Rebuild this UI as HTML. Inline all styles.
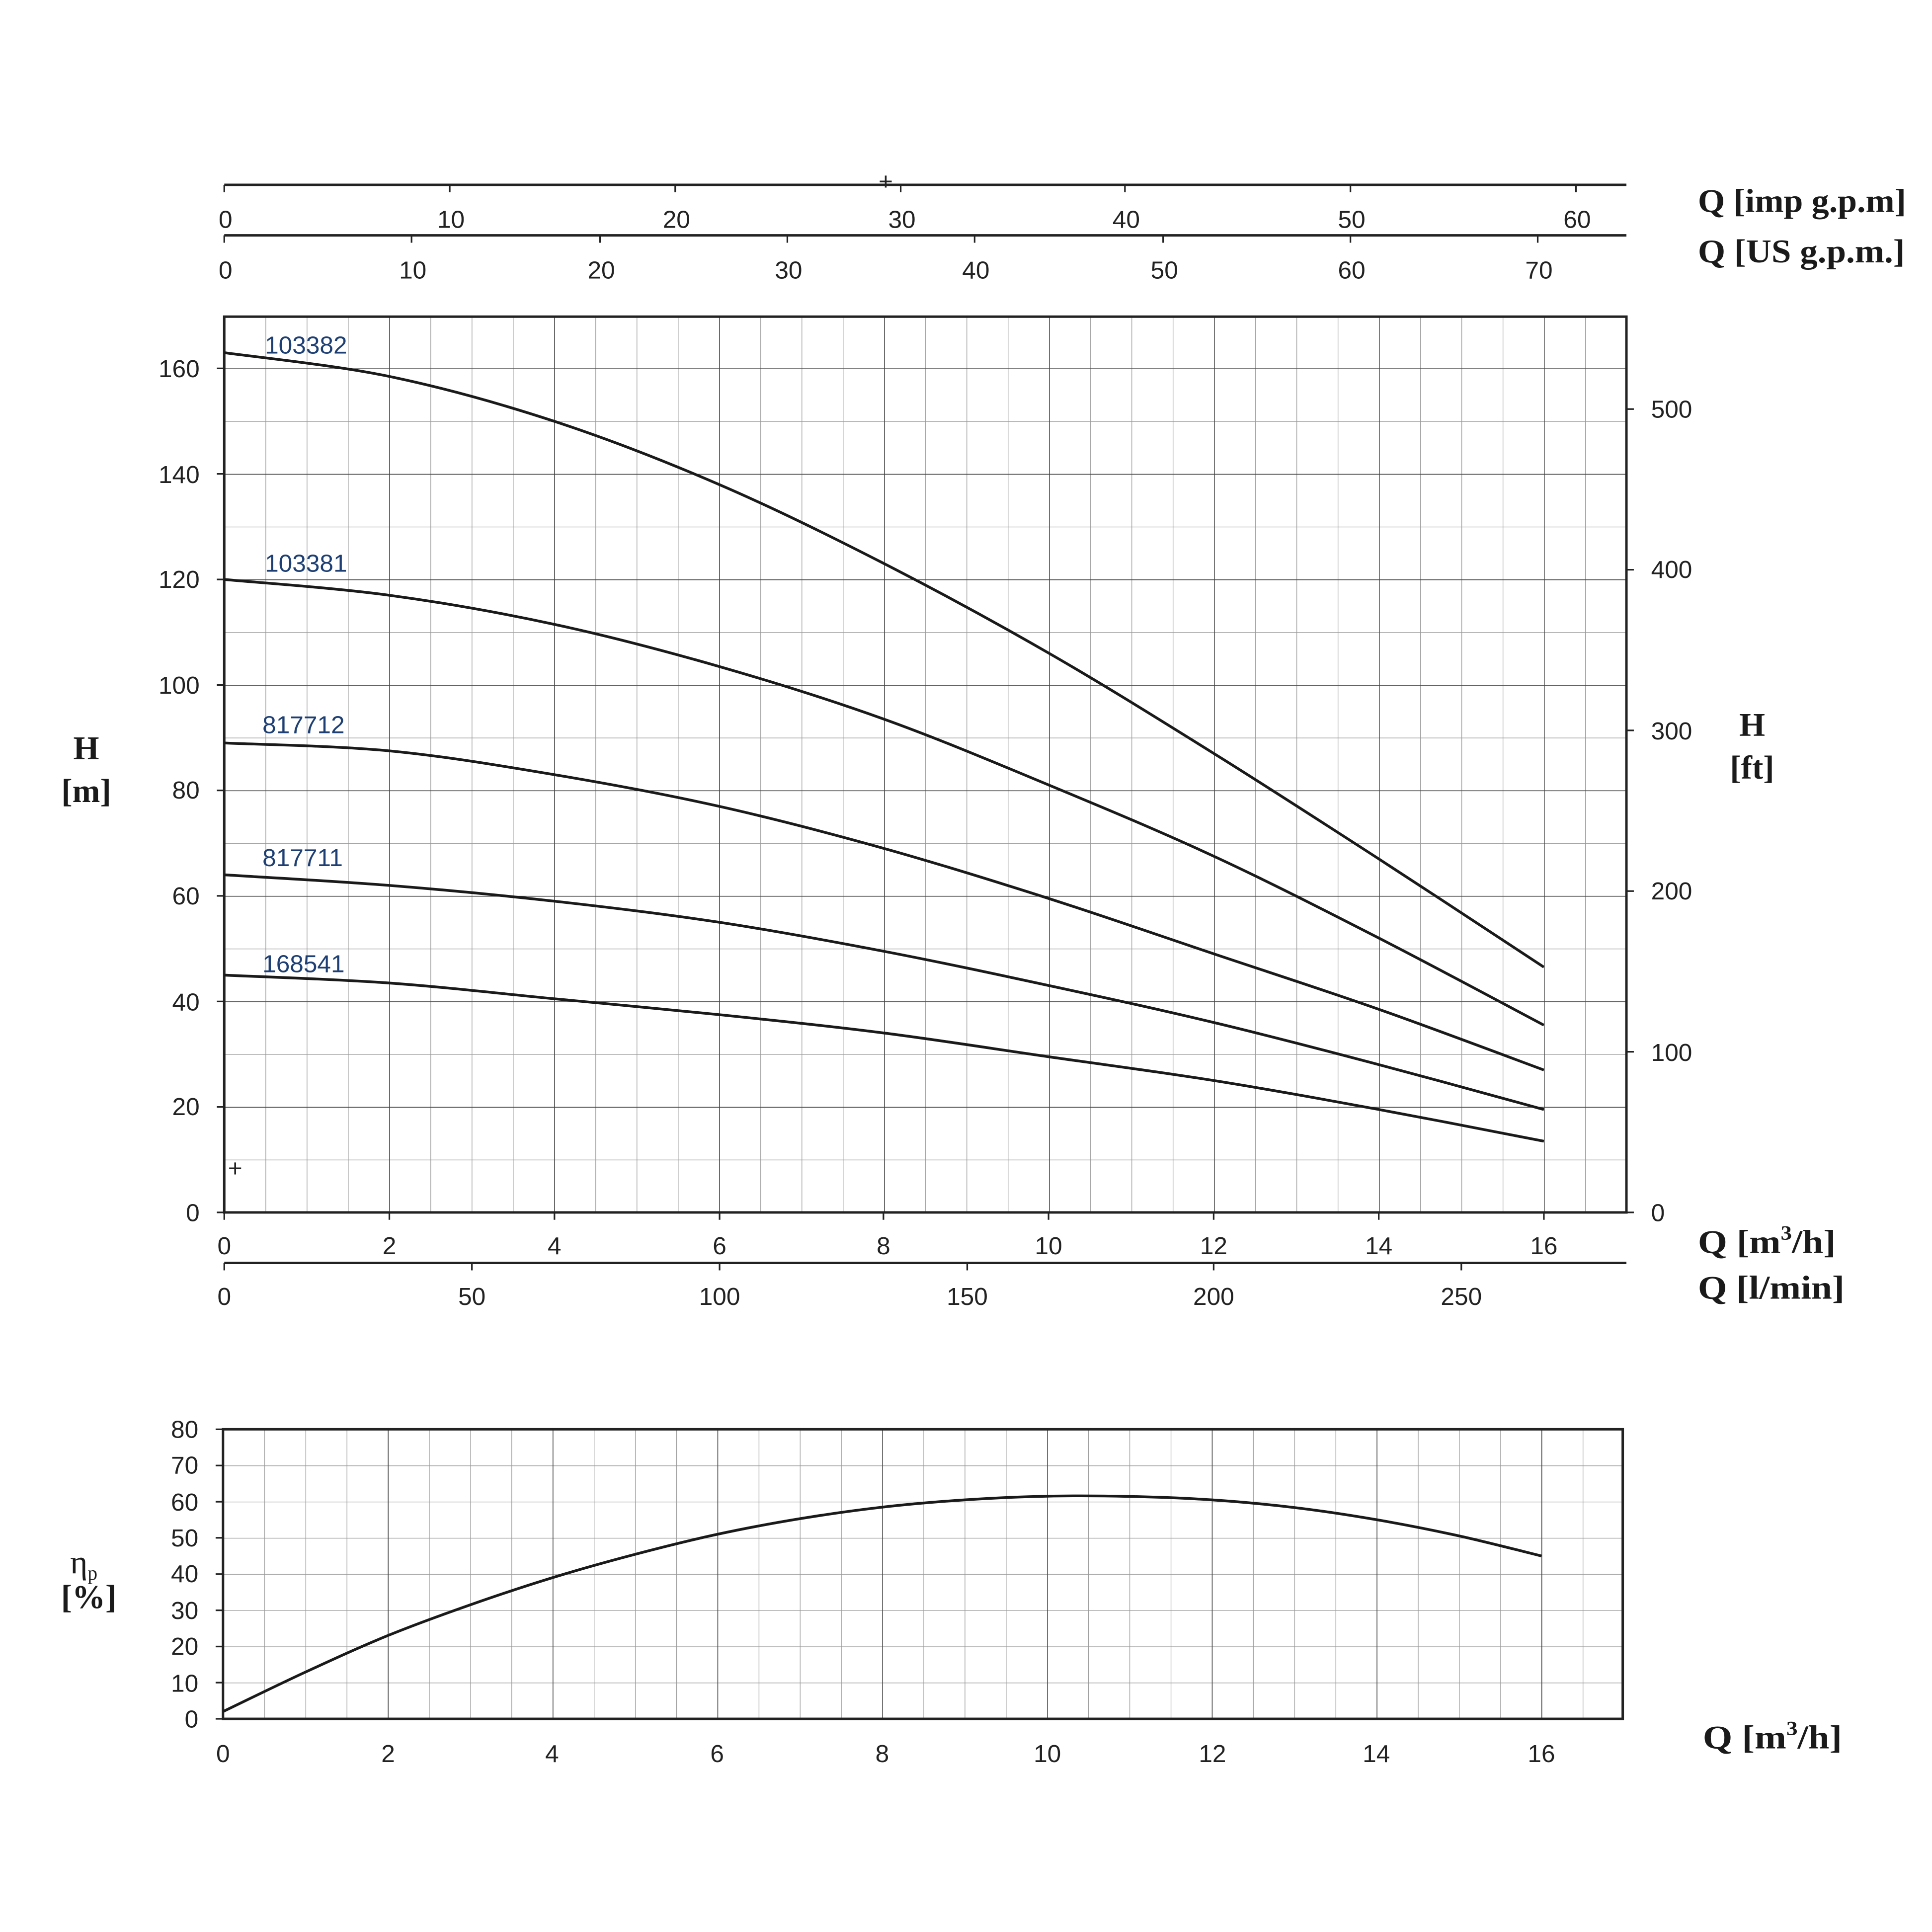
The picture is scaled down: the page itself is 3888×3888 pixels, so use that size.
<!DOCTYPE html>
<html><head><meta charset="utf-8"><style>
html,body{margin:0;padding:0;background:#fff;}
svg{display:block;}
.t{font-family:"Liberation Sans",Arial,sans-serif;font-size:20px;fill:#222;}
.s{font-family:"Liberation Serif",serif;font-size:27px;font-weight:bold;fill:#1a1a1a;}
.n{font-family:"Liberation Sans",Arial,sans-serif;font-size:20px;fill:#1d3f73;}
</style></head><body>
<svg width="3888" height="3888" viewBox="0 0 1568 1568" xmlns="http://www.w3.org/2000/svg">
<defs>
<pattern id="mn" patternUnits="userSpaceOnUse" x="182" y="299" width="33.47" height="42.81">
<path d="M0 0V42.81M0 0H33.47" stroke="#999" stroke-width="1" fill="none"/></pattern>
<pattern id="mj" patternUnits="userSpaceOnUse" x="182" y="299" width="133.88" height="85.62">
<path d="M0 0V85.62M0 0H133.88" stroke="#444" stroke-width="1.2" fill="none"/></pattern>
<pattern id="emn" patternUnits="userSpaceOnUse" x="181" y="1160" width="33.44" height="29.375">
<path d="M0 0V29.375M0 0H33.44" stroke="#999" stroke-width="1" fill="none"/></pattern>
<pattern id="emj" patternUnits="userSpaceOnUse" x="181" y="1160" width="133.75" height="29.375">
<path d="M0 0V29.375" stroke="#444" stroke-width="1.2" fill="none"/></pattern>
</defs>
<rect width="1568" height="1568" fill="#fff"/>
<rect x="182" y="257" width="1138" height="727" fill="url(#mn)"/>
<rect x="182" y="257" width="1138" height="727" fill="url(#mj)"/>
<rect x="182" y="257" width="1138" height="727" fill="none" stroke="#222" stroke-width="2"/>
<g stroke="#222" stroke-width="2">
<line x1="182" y1="150" x2="1320" y2="150"/><line x1="182" y1="191" x2="1320" y2="191"/>
<line x1="182" y1="1025" x2="1320" y2="1025"/>
</g>
<g stroke="#222" stroke-width="1.3">
<path d="M182 150v6M365 150v6M548 150v6M731 150v6M913 150v6M1096 150v6M1279 150v6"/>
<path d="M182 191v6M334 191v6M487 191v6M639 191v6M791 191v6M944 191v6M1096 191v6M1248 191v6"/>
<path d="M182 1025v6M383 1025v6M584 1025v6M785 1025v6M985 1025v6M1186 1025v6"/>
<path d="M182 984v6M316 984v6M450 984v6M584 984v6M717 984v6M851 984v6M985 984v6M1119 984v6M1253 984v6"/>
<path d="M1320 984h6M1320 853.6h6M1320 723.2h6M1320 592.8h6M1320 462.4h6M1320 332h6"/>
<path d="M182 984h-6M182 898.4h-6M182 812.8h-6M182 727.1h-6M182 641.5h-6M182 555.9h-6M182 470.3h-6M182 384.6h-6M182 299h-6"/>
</g>
<g class="t" text-anchor="middle">
<text x="183" y="185">0</text><text x="366" y="185">10</text><text x="549" y="185">20</text><text x="732" y="185">30</text><text x="914" y="185">40</text><text x="1097" y="185">50</text><text x="1280" y="185">60</text>
<text x="183" y="226">0</text><text x="335" y="226">10</text><text x="488" y="226">20</text><text x="640" y="226">30</text><text x="792" y="226">40</text><text x="945" y="226">50</text><text x="1097" y="226">60</text><text x="1249" y="226">70</text>
<text x="182" y="1018">0</text><text x="316" y="1018">2</text><text x="450" y="1018">4</text><text x="584" y="1018">6</text><text x="717" y="1018">8</text><text x="851" y="1018">10</text><text x="985" y="1018">12</text><text x="1119" y="1018">14</text><text x="1253" y="1018">16</text>
<text x="182" y="1059">0</text><text x="383" y="1059">50</text><text x="584" y="1059">100</text><text x="785" y="1059">150</text><text x="985" y="1059">200</text><text x="1186" y="1059">250</text>
</g>
<g class="t" text-anchor="end">
<text x="162" y="991">0</text><text x="162" y="905">20</text><text x="162" y="820">40</text><text x="162" y="734">60</text><text x="162" y="648">80</text><text x="162" y="563">100</text><text x="162" y="477">120</text><text x="162" y="392">140</text><text x="162" y="306">160</text>
</g>
<g class="t">
<text x="1340" y="991">0</text><text x="1340" y="861">100</text><text x="1340" y="730">200</text><text x="1340" y="600">300</text><text x="1340" y="469">400</text><text x="1340" y="339">500</text>
</g>
<text x="185" y="955" class="t" font-size="13">+</text>
<text x="713" y="154" class="t" font-size="11">+</text>
<g fill="none" stroke="#1a1a1a" stroke-width="2.2" stroke-linejoin="round" class="cv">
<polyline points="182,286.2 315.9,305.5 449.8,341.9 583.6,393.2 717.5,457.4 851.4,530.2 985.3,611.6 1119.2,697.2 1253,784.9"/>
<polyline points="182,470.3 315.9,483.1 449.8,506.7 583.6,540.9 717.5,583.7 851.4,637.2 985.3,695 1119.2,761.4 1253,832"/>
<polyline points="182,603 315.9,609.4 449.8,628.7 583.6,654.4 717.5,688.6 851.4,729.3 985.3,774.2 1119.2,819.2 1253,868.4"/>
<polyline points="182,710 315.9,718.6 449.8,731.4 583.6,748.5 717.5,772.1 851.4,799.9 985.3,829.9 1119.2,864.1 1253,900.5"/>
<polyline points="182,791.4 315.9,797.8 449.8,810.6 583.6,823.5 717.5,838.4 851.4,857.7 985.3,877 1119.2,900.5 1253,926.2"/>
</g>
<g class="n">
<text x="215" y="287">103382</text><text x="215" y="464">103381</text><text x="213" y="595">817712</text><text x="213" y="703">817711</text><text x="213" y="789">168541</text>
</g>
<g class="s">
<text x="1378" y="172" textLength="169" lengthAdjust="spacingAndGlyphs">Q [imp g.p.m]</text>
<text x="1378" y="213" textLength="168" lengthAdjust="spacingAndGlyphs">Q [US g.p.m.]</text>
<text x="1378" y="1017" textLength="112" lengthAdjust="spacingAndGlyphs">Q [m<tspan font-size="16" dy="-11">3</tspan><tspan dy="11">/h]</tspan></text>
<text x="1378" y="1054" textLength="119" lengthAdjust="spacingAndGlyphs">Q [l/min]</text>
<text x="1382" y="1419" textLength="113" lengthAdjust="spacingAndGlyphs">Q [m<tspan font-size="16" dy="-11">3</tspan><tspan dy="11">/h]</tspan></text>
</g>
<g class="s" text-anchor="middle">
<text x="70" y="616">H</text><text x="70" y="651">[m]</text>
<text x="1422" y="597">H</text><text x="1422" y="632">[ft]</text>
<text x="68" y="1277" font-weight="normal">η<tspan font-size="16" dy="5">p</tspan></text><text x="72" y="1305">[%]</text>
</g>
<rect x="181" y="1160" width="1136" height="235" fill="url(#emn)"/>
<rect x="181" y="1160" width="1136" height="235" fill="url(#emj)"/>
<rect x="181" y="1160" width="1136" height="235" fill="none" stroke="#222" stroke-width="2"/>
<g class="t" text-anchor="end">
<text x="161" y="1402">0</text><text x="161" y="1373">10</text><text x="161" y="1343">20</text><text x="161" y="1314">30</text><text x="161" y="1284">40</text><text x="161" y="1255">50</text><text x="161" y="1226">60</text><text x="161" y="1196">70</text><text x="161" y="1167">80</text>
</g>
<g stroke="#222" stroke-width="1.3"><path d="M181 1395h-6M181 1365.6h-6M181 1336.3h-6M181 1306.9h-6M181 1277.5h-6M181 1248.1h-6M181 1218.8h-6M181 1189.4h-6M181 1160h-6"/></g>
<g class="t" text-anchor="middle">
<text x="181" y="1430">0</text><text x="315" y="1430">2</text><text x="448" y="1430">4</text><text x="582" y="1430">6</text><text x="716" y="1430">8</text><text x="850" y="1430">10</text><text x="984" y="1430">12</text><text x="1117" y="1430">14</text><text x="1251" y="1430">16</text>
</g>
<g fill="none" stroke="#1a1a1a" stroke-width="2.2" stroke-linejoin="round" class="cv">
<polyline points="181,1389.1 248,1357 314.8,1327.4 381.6,1302.5 448.5,1280.4 515.4,1261.5 582.3,1245.2 649,1232.6 716,1223.2 783,1217.3 849.8,1214.3 916.6,1214.5 983.5,1217.3 1050.4,1223.5 1117.3,1233.4 1184,1246.5 1251,1262.8"/>
</g>
</svg>
<script>
document.querySelectorAll('.cv polyline').forEach(function(pl){
  var p=pl.getAttribute('points').trim().split(/\s+/).map(function(s){return s.split(',').map(Number);});
  var d='M'+p[0][0]+' '+p[0][1];
  for(var i=0;i<p.length-1;i++){
    var p0=p[i-1]||p[i],p1=p[i],p2=p[i+1],p3=p[i+2]||p[i+1];
    var c1=[p1[0]+(p2[0]-p0[0])/6,p1[1]+(p2[1]-p0[1])/6];
    var c2=[p2[0]-(p3[0]-p1[0])/6,p2[1]-(p3[1]-p1[1])/6];
    d+=' C'+c1[0]+' '+c1[1]+' '+c2[0]+' '+c2[1]+' '+p2[0]+' '+p2[1];
  }
  var path=document.createElementNS('http://www.w3.org/2000/svg','path');
  path.setAttribute('d',d);
  pl.parentNode.replaceChild(path,pl);
});
</script>
</body></html>
